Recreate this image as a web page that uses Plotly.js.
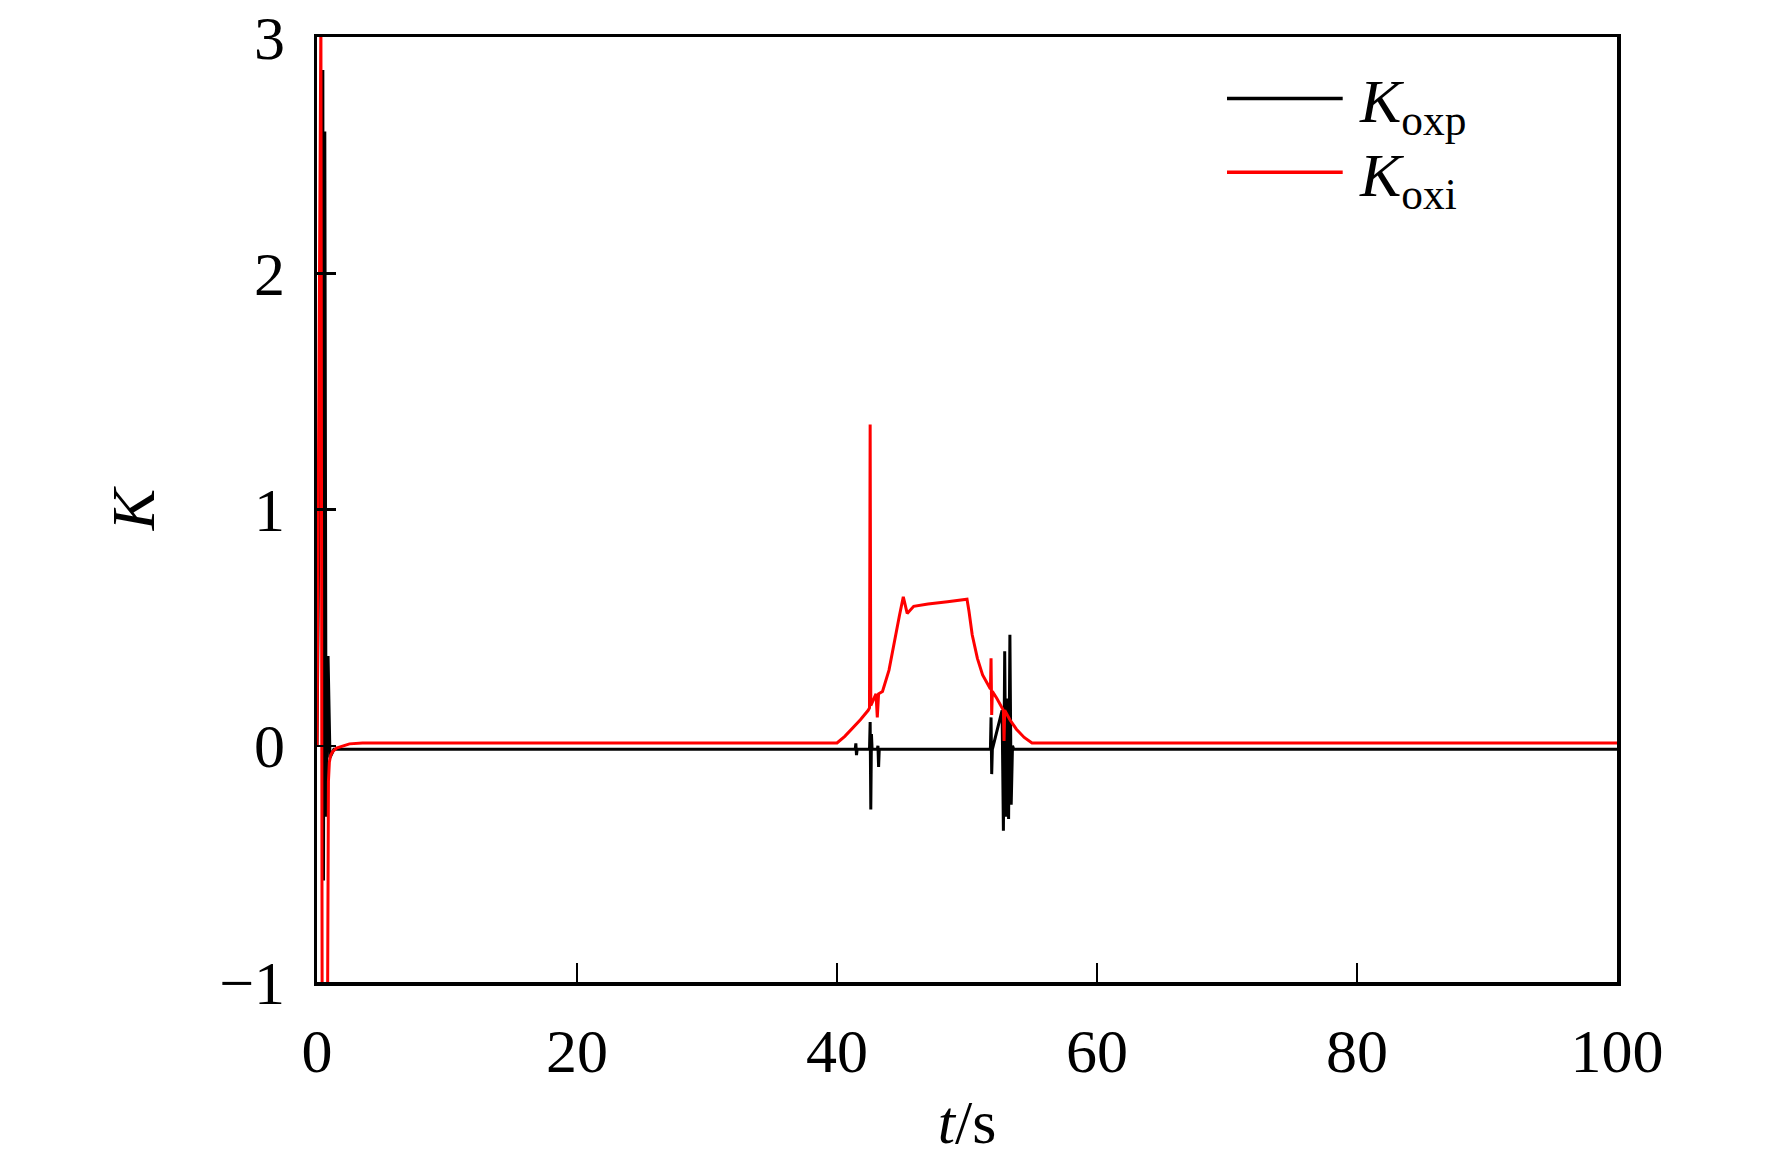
<!DOCTYPE html>
<html>
<head>
<meta charset="utf-8">
<script src="https://cdn.plot.ly/plotly-3.0.1.min.js"></script>
<style>
  body { margin: 0; background: #fff; }
  #chart { width: 1772px; height: 1157px; }
</style>
</head>
<body>
<div id="chart"></div>
<script>
// K_oxp (black)
var t_oxp = [0, 0.45, 0.5, 0.6, 0.7, 0.85, 1.0, 1.3,
    41.4, 41.45, 41.5, 41.55,
    42.5, 42.55, 42.6, 42.65, 42.7,
    43.1, 43.15, 43.2, 43.25,
    51.8, 51.85, 51.9, 51.95,
    52.7, 52.8, 52.9, 53.0, 53.1, 53.2, 53.3, 53.4, 53.5, 53.6, 100];
var k_oxp = [0, 2.86, -0.57, 2.6, -0.3, 0.38, -0.05, -0.015,
    -0.015, 0.01, -0.04, -0.015,
    -0.015, 0.1, -0.27, 0.05, -0.015,
    -0.015, 0.0, -0.09, -0.015,
    -0.015, 0.12, -0.12, -0.015,
    0.15, -0.36, 0.4, -0.3, 0.2, -0.31, 0.47, -0.25, 0.0, -0.015, -0.015];

// K_oxi (red)
var t_oxi = [0, 0.3, 0.4, 0.8, 0.88, 0.95, 1.05, 1.2, 1.5, 2.0, 2.5, 3.5,
    40.0, 40.6, 41.2, 41.8, 42.4, 42.5, 42.55, 42.6, 43.0, 43.1, 43.2, 43.5,
    44.0, 44.3, 44.8, 45.1, 45.4, 45.9, 47.0, 48.5, 50.0, 50.15, 50.4, 50.8, 51.2,
    51.8, 51.85, 51.9, 51.95, 52.3, 52.8, 52.85, 52.9, 53.3, 53.8, 54.4, 55.0, 100];
var k_oxi = [0, 3.1, -1.3, -1.3, -0.15, -0.07, -0.04, -0.025, -0.01, 0.0, 0.008, 0.012,
    0.012, 0.04, 0.075, 0.11, 0.15, 0.16, 1.36, 0.17, 0.22, 0.12, 0.22, 0.23,
    0.32, 0.41, 0.55, 0.63, 0.56, 0.59, 0.6, 0.61, 0.62, 0.57, 0.47, 0.37, 0.3,
    0.24, 0.37, 0.13, 0.23, 0.2, 0.15, 0.02, 0.15, 0.11, 0.07, 0.035, 0.012, 0.012];

var seriesNames = ['<i>K</i><sub>oxp</sub>', '<i>K</i><sub>oxi</sub>'];
var seriesColors = ['#000000', '#ff0000'];

var FONT = '"Liberation Serif", "Times New Roman", serif';

var traces = [
    {x: t_oxp, y: k_oxp, name: seriesNames[0], type: 'scatter', mode: 'lines',
     line: {color: seriesColors[0], width: 3}},
    {x: t_oxi, y: k_oxi, name: seriesNames[1], type: 'scatter', mode: 'lines',
     line: {color: seriesColors[1], width: 3}}
];

// hand-made legend, the figure uses long sample lines
var legendY = [0.935, 0.857];
var shapes = [];
var annotations = [];
for (var i = 0; i < seriesNames.length; i++) {
    shapes.push({type: 'line', xref: 'paper', yref: 'paper',
        x0: 0.70, x1: 0.789, y0: legendY[i], y1: legendY[i],
        line: {color: seriesColors[i], width: 3.5}});
    annotations.push({xref: 'paper', yref: 'paper', x: 0.80, y: legendY[i] - 0.008,
        xanchor: 'left', yanchor: 'middle', showarrow: false,
        text: seriesNames[i], font: {family: FONT, size: 62, color: '#000'}});
}

var axisCommon = {
    showline: true, linecolor: '#000', linewidth: 3.5, mirror: true,
    ticks: 'inside', ticklen: 19, tickwidth: 2.5, tickcolor: '#000',
    showgrid: false, zeroline: false,
    tickfont: {family: FONT, size: 62, color: '#000'}
};

var layout = {
    width: 1772,
    height: 1157,
    margin: {l: 317, r: 155, t: 37, b: 175},
    paper_bgcolor: '#fff',
    plot_bgcolor: '#fff',
    showlegend: false,
    xaxis: Object.assign({}, axisCommon, {
        range: [0, 100], tickvals: [0, 20, 40, 60, 80, 100],
        ticklabelstandoff: 12,
        title: {text: '<i>t</i>/s', font: {family: FONT, size: 62, color: '#000'}, standoff: 16}
    }),
    yaxis: Object.assign({}, axisCommon, {
        range: [-1, 3], tickvals: [-1, 0, 1, 2, 3],
        ticklabelstandoff: 16,
        title: {text: '<i>K</i>', font: {family: FONT, size: 62, color: '#000'}, standoff: 45}
    }),
    shapes: shapes,
    annotations: annotations
};

Plotly.newPlot('chart', traces, layout, {displayModeBar: false, staticPlot: true});
</script>
</body>
</html>
